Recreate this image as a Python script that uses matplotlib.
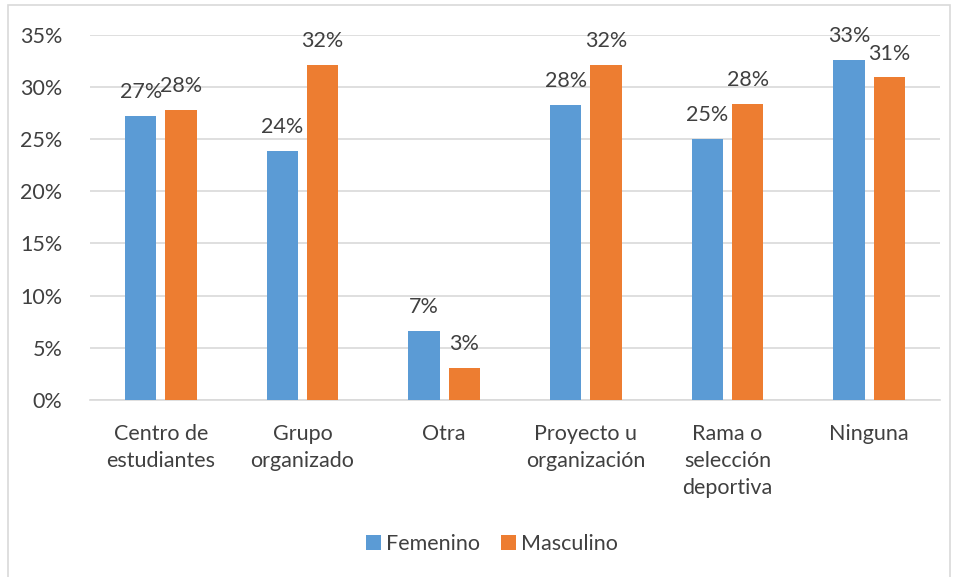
import matplotlib.pyplot as plt
import numpy as np
from matplotlib.ticker import PercentFormatter
from matplotlib.patches import Rectangle

categories = ['Centro de\nestudiantes', 'Grupo\norganizado', 'Otra',
              'Proyecto u\norganización', 'Rama o\nselección\ndeportiva', 'Ninguna']
femenino = [27.2, 23.9, 6.6, 28.3, 25.0, 32.6]
masculino = [27.8, 32.1, 3.1, 32.1, 28.4, 30.9]
series_names = ['Femenino', 'Masculino']
colors = ['#5B9BD5', '#ED7D31']

plt.rcParams['font.family'] = ['Lato', 'DejaVu Sans']
text_color = '#404040'
fs = 15.5

fig = plt.figure(figsize=(9.58, 5.77), dpi=100)
ax = fig.add_axes([90 / 958, 1 - 400 / 577, 850 / 958, 365.3 / 577])

x = np.arange(len(categories))
w = 0.22
off = 0.1425
b1 = ax.bar(x - off, femenino, w, color=colors[0], label=series_names[0], zorder=3)
b2 = ax.bar(x + off, masculino, w, color=colors[1], label=series_names[1], zorder=3)

for bars, vals in ((b1, femenino), (b2, masculino)):
    for bar, v in zip(bars, vals):
        ax.annotate('{:.0f}%'.format(v), (bar.get_x() + bar.get_width() / 2, v),
                    xytext=(0, 10), textcoords='offset points', ha='center', va='bottom',
                    fontsize=fs, color=text_color)

ax.set_xlim(-0.5, len(categories) - 0.5)
ax.set_ylim(0, 35)
ax.set_yticks(np.arange(0, 36, 5))
ax.yaxis.set_major_formatter(PercentFormatter(decimals=0))
ax.set_xticks(x)
ax.set_xticklabels(categories, linespacing=1.45)
ax.tick_params(axis='both', length=0, labelsize=fs, colors=text_color)
ax.tick_params(axis='x', pad=17)
ax.tick_params(axis='y', pad=20)
ax.grid(axis='y', color='#D9D9D9', linewidth=1.2, zorder=0)
for s in ['top', 'right', 'left']:
    ax.spines[s].set_visible(False)
ax.spines['bottom'].set_color('#D9D9D9')
ax.spines['bottom'].set_linewidth(1.2)

fig.legend(handles=[b1, b2], loc='center', bbox_to_anchor=(492 / 958, 1 - 544 / 577),
           ncol=2, frameon=False, fontsize=fs, handlelength=0.7, handleheight=0.7,
           handletextpad=0.2, columnspacing=1.0, labelcolor=text_color)

fig.patches.append(Rectangle((8 / 958, -0.05), 942 / 958, 1 - 5 / 577 + 0.05,
                             transform=fig.transFigure, fill=False,
                             edgecolor='#D9D9D9', linewidth=1.2))

fig.savefig('out.png', dpi=100)
